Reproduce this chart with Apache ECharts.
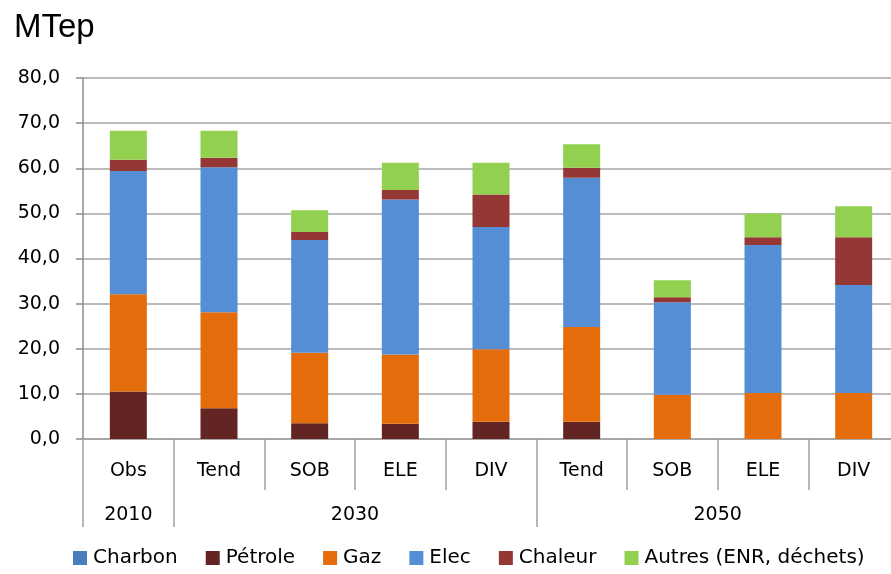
<!DOCTYPE html>
<html>
<head>
<meta charset="utf-8">
<script src="https://cdn.jsdelivr.net/npm/echarts@6/dist/echarts.min.js"></script>
<style>
  html, body { margin: 0; padding: 0; background: #fff; }
  #chart { width: 891px; height: 574px; }
</style>
</head>
<body>
<div id="chart"></div>
<script>
// categories (scenario) and year groups
var scenarios = ['Obs', 'Tend', 'SOB', 'ELE', 'DIV', 'Tend', 'SOB', 'ELE', 'DIV'];
var yearGroups = ['2010', '2030', '2050'];
var groupSizes = [1, 4, 4];

// MTep per energy
var charbon = [0, 0, 0, 0, 0, 0, 0, 0, 0];
var petrole = [10.5, 6.8, 3.5, 3.4, 3.8, 3.8, 0, 0, 0];
var gaz     = [21.6, 21.3, 15.6, 15.3, 16.1, 21.0, 9.8, 10.2, 10.2];
var elec    = [27.3, 32.1, 25.0, 34.4, 27.1, 33.1, 20.5, 32.8, 23.9];
var chaleur = [2.5, 2.1, 1.8, 2.1, 7.2, 2.2, 1.1, 1.7, 10.6];
var autres  = [6.4, 6.0, 4.8, 6.0, 7.0, 5.2, 3.8, 5.3, 6.9];

var yTicks = [0, 10, 20, 30, 40, 50, 60, 70, 80];

var FONT = 'DejaVu Sans';

// year axis runs in half-category steps so labels can sit in the middle of each group
var yearAxisData = [];
var yearTickIdx = {};
for (var i = 0; i <= scenarios.length * 2; i++) yearAxisData.push('');
var start = 0;
for (var g = 0; g < yearGroups.length; g++) {
    yearAxisData[2 * start + groupSizes[g]] = yearGroups[g];
    yearTickIdx[2 * start] = true;
    start += groupSizes[g];
}
yearTickIdx[2 * start] = true;

function bar(name, data, color) {
    return {
        name: name,
        type: 'bar',
        stack: 'total',
        barWidth: 37,
        data: data,
        itemStyle: { color: color },
        emphasis: { disabled: true }
    };
}

var myChart = echarts.init(document.getElementById('chart'));

var option = {
    animation: false,
    title: {
        text: 'MTep',
        left: 9,
        top: 6,
        textStyle: { fontFamily: 'Liberation Sans', fontSize: 33, fontWeight: 'normal', color: '#000' }
    },
    legend: {
        left: 68,
        top: 543,
        itemWidth: 14,
        itemHeight: 14,
        itemGap: 28,
        icon: 'rect',
        textStyle: { fontFamily: FONT, fontSize: 20, color: '#000', padding: [0, 0, 0, 1] },
        data: ['Charbon', 'Pétrole', 'Gaz', 'Elec', 'Chaleur', 'Autres (ENR, déchets)']
    },
    grid: { left: 83, top: 78, width: 816, height: 361, containLabel: false, outerBoundsMode: 'none' },
    xAxis: [{
        type: 'category',
        data: scenarios,
        boundaryGap: true,
        axisLine: { lineStyle: { color: '#a0a0a0', width: 1.5 } },
        axisTick: { show: true, interval: 0, length: 51, lineStyle: { color: '#a0a0a0', width: 1.5 } },
        axisLabel: { interval: 0, margin: 23, fontFamily: FONT, fontSize: 19, color: '#000' }
    }, {
        type: 'category',
        data: yearAxisData,
        boundaryGap: false,
        position: 'bottom',
        axisLine: { show: false },
        axisTick: {
            show: true,
            length: 88,
            interval: function (idx) { return !!yearTickIdx[idx]; },
            lineStyle: { color: '#a0a0a0', width: 1.5 }
        },
        axisLabel: { interval: 0, margin: 67, fontFamily: FONT, fontSize: 19, color: '#000' }
    }],
    yAxis: {
        type: 'value',
        min: yTicks[0],
        max: yTicks[yTicks.length - 1],
        interval: yTicks[1] - yTicks[0],
        axisLine: { show: true, lineStyle: { color: '#8c8c8c', width: 1.5 } },
        axisTick: { show: true, length: 7, lineStyle: { color: '#8c8c8c', width: 1.5 } },
        splitLine: { lineStyle: { color: '#a6a6a6', width: 1.5 } },
        axisLabel: {
            margin: 23,
            fontFamily: FONT,
            fontSize: 19,
            color: '#000',
            formatter: function (v) { return v.toFixed(1).replace('.', ','); }
        }
    },
    series: [
        bar('Charbon', charbon, '#4a7ebb'),
        bar('Pétrole', petrole, '#632523'),
        bar('Gaz', gaz, '#e46c0a'),
        bar('Elec', elec, '#558ed5'),
        bar('Chaleur', chaleur, '#953735'),
        bar('Autres (ENR, déchets)', autres, '#92d050')
    ]
};

myChart.setOption(option);
</script>
</body>
</html>
